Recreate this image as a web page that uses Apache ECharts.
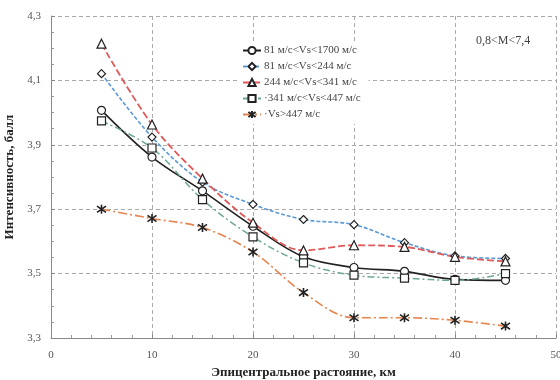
<!DOCTYPE html>
<html>
<head>
<meta charset="utf-8">
<script src="https://cdn.jsdelivr.net/npm/echarts@6/dist/echarts.min.js"></script>
<style>
  html, body { margin: 0; padding: 0; background: #fff; }
  #chart { width: 560px; height: 380px; }
</style>
</head>
<body>
<div id="chart"></div>
<script>
const distances = [5, 10, 15, 20, 25, 30, 35, 40, 45]
const seriesNames = [
    '81 м/с<Vs<1700 м/с',
    '81 м/с<Vs<244 м/с',
    '244 м/с<Vs<341 м/с',
    '·341 м/с<Vs<447 м/с',
    '·Vs>447 м/с'
]
const allSites = [4.007, 3.862, 3.757, 3.647, 3.552, 3.519, 3.507, 3.482, 3.479]
const vs81to244 = [4.121, 3.924, 3.784, 3.715, 3.668, 3.652, 3.596, 3.555, 3.547]
const vs244to341 = [4.214, 3.963, 3.795, 3.658, 3.572, 3.588, 3.583, 3.552, 3.538]
const vs341to447 = [3.974, 3.890, 3.730, 3.614, 3.533, 3.495, 3.486, 3.479, 3.500]
const vsOver447 = [3.700, 3.671, 3.643, 3.567, 3.441, 3.363, 3.363, 3.355, 3.337]

const serif = 'Liberation Serif'
const star = 'path://M0,-5L0,5M-4.5,-3.5L4.5,3.5M-4.5,3.5L4.5,-3.5'

function pairs(ys) {
    return distances.map((x, i) => [x, ys[i]])
}

function line(name, ys, color, type, width, symbol, size) {
    return {
        name: name,
        type: 'line',
        data: pairs(ys),
        smooth: 0.35,
        symbol: symbol,
        symbolSize: size,
        showAllSymbol: true,
        lineStyle: { color: color, type: type, width: width },
        itemStyle: {
            color: symbol === star ? 'rgba(0,0,0,0)' : '#fff',
            borderColor: '#222',
            borderWidth: symbol === star ? 1.6 : 1.2
        },
        emphasis: { disabled: true }
    }
}

const chart = echarts.init(document.getElementById('chart'))
chart.setOption({
    animation: false,
    backgroundColor: '#fff',
    grid: { left: 51, right: 4, top: 16, bottom: 42, outerBoundsMode: 'none' },
    legend: {
        orient: 'vertical',
        left: 238,
        top: 41,
        padding: [4, 8, 4, 4],
        itemGap: 5,
        itemWidth: 18,
        itemHeight: 9,
        backgroundColor: '#fff',
        textStyle: { fontFamily: serif, fontSize: 11, color: '#444', padding: [0, 0, 0, -2] },
        data: seriesNames
    },
    xAxis: {
        type: 'value',
        min: 0,
        max: 50,
        interval: 10,
        name: 'Эпицентральное растояние, км',
        nameLocation: 'middle',
        nameGap: 28,
        nameTextStyle: { fontFamily: serif, fontSize: 13, fontWeight: 'bold', color: '#222' },
        axisLine: { lineStyle: { color: '#888' } },
        axisTick: { inside: true, length: 4, lineStyle: { color: '#888' } },
        minorTick: { show: true, splitNumber: 5, length: 3, lineStyle: { color: '#999' } },
        axisLabel: { fontFamily: serif, fontSize: 11, color: '#555', margin: 12 },
        splitLine: { show: true, lineStyle: { color: '#aaa', type: [4, 3] } }
    },
    yAxis: {
        type: 'value',
        min: 3.3,
        max: 4.3,
        interval: 0.2,
        name: 'Интенсивность, балл',
        nameLocation: 'middle',
        nameGap: 25,
        nameTextStyle: { fontFamily: serif, fontSize: 13, fontWeight: 'bold', color: '#222' },
        axisLine: { show: true, lineStyle: { color: '#888' } },
        axisTick: { show: true, inside: true, length: 4, lineStyle: { color: '#888' } },
        minorTick: { show: true, splitNumber: 4, length: 3, lineStyle: { color: '#999' } },
        axisLabel: {
            fontFamily: serif, fontSize: 11, color: '#555', margin: 10,
            formatter: v => v.toFixed(1).replace('.', ',')
        },
        splitLine: { show: true, lineStyle: { color: '#aaa', type: [4, 3] } }
    },
    graphic: [{
        type: 'text',
        left: 476,
        top: 35,
        style: { text: '0,8<M<7,4', fontFamily: serif, fontSize: 12, fill: '#444' }
    }],
    series: [
        line(seriesNames[0], allSites, '#222', 'solid', 1.6, 'circle', 8),
        line(seriesNames[1], vs81to244, '#5a9ad6', [4, 2], 1.6, 'diamond', 8),
        line(seriesNames[2], vs244to341, '#e05a5a', [7, 3], 1.8, 'triangle', 9),
        line(seriesNames[3], vs341to447, '#6fa894', [7, 3, 2, 3], 1.5, 'rect', 8),
        line(seriesNames[4], vsOver447, '#e8844e', [9, 3, 2, 3], 1.6, star, 9)
    ]
})
</script>
</body>
</html>
